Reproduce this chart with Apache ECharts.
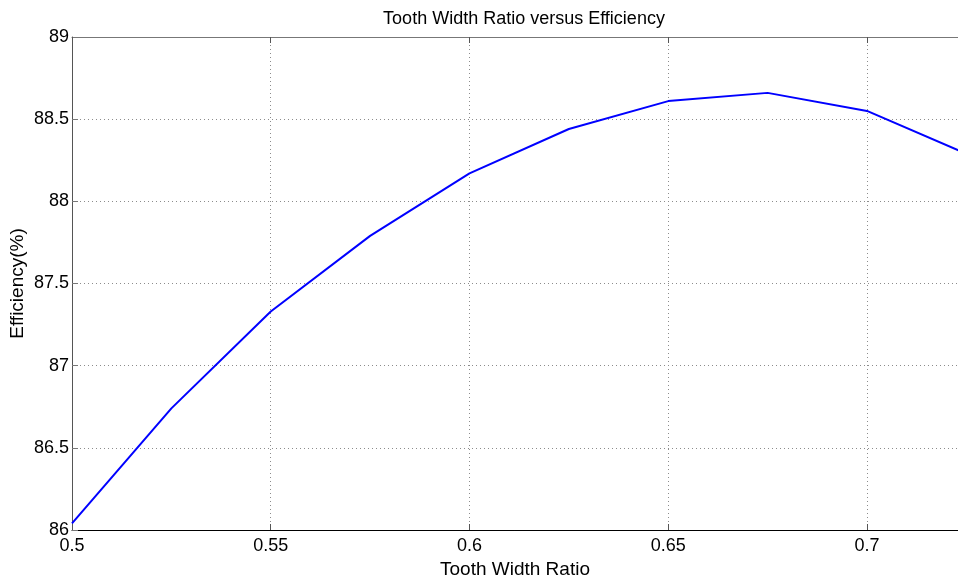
<!DOCTYPE html>
<html><head><meta charset="utf-8">
<script src="https://cdn.jsdelivr.net/npm/echarts@6/dist/echarts.min.js"></script>
<style>html,body{margin:0;padding:0;background:#fff}#c{width:958px;height:579px}</style>
</head><body><div id="c"></div>
<script>
var ratios = [0.5, 0.525, 0.55, 0.575, 0.6, 0.625, 0.65, 0.675, 0.7, 0.725];
var efficiency = [86.04, 86.74, 87.33, 87.79, 88.17, 88.44, 88.61, 88.66, 88.55, 88.29];
var xTicks = [0.5, 0.55, 0.6, 0.65, 0.7];
var yTicks = [86, 86.5, 87, 87.5, 88, 88.5, 89];

var chart = echarts.init(document.getElementById('c'), null, {renderer: 'canvas'});
var font = 'Liberation Sans, Arial, sans-serif';
chart.setOption({
  animation: false,
  title: {text: 'Tooth Width Ratio versus Efficiency', left: 519, top: 5, textAlign: 'center',
    textStyle: {fontFamily: font, fontSize: 18, fontWeight: 'normal', color: '#000'}},
  grid: {left: 72, right: 0, top: 37, bottom: 49, containLabel: false, outerBoundsMode: 'none'},
  xAxis: [{
    type: 'value', min: 0.5, max: 0.7229, interval: 0.05,
    name: 'Tooth Width Ratio', nameLocation: 'middle', nameGap: 28,
    nameTextStyle: {fontFamily: font, fontSize: 19, color: '#000'},
    axisLine: {lineStyle: {color: '#000', width: 1}},
    axisTick: {inside: true, length: 6, lineStyle: {color: '#555'}},
    axisLabel: {fontFamily: font, fontSize: 18, color: '#000', margin: 7,
      showMaxLabel: false,
      formatter: function(v){ var s = String(+v.toFixed(3)); return xTicks.indexOf(+v.toFixed(3)) >= 0 ? s : ''; }},
    splitLine: {show: true, lineStyle: {color: '#8c8c8c', type: [1, 3], width: 1}}
  }, {
    type: 'value', position: 'top', min: 0.5, max: 0.7229, interval: 0.05,
    axisLine: {show: true, lineStyle: {color: '#777', width: 1}},
    axisTick: {inside: true, length: 6, lineStyle: {color: '#555'}},
    axisLabel: {show: false}, splitLine: {show: false}
  }],
  yAxis: {
    type: 'value', min: 86, max: 89, interval: 0.5,
    name: 'Efficiency(%)', nameLocation: 'middle', nameGap: 45, nameMoveOverlap: false,
    nameTextStyle: {fontFamily: font, fontSize: 19, color: '#000'},
    axisLine: {show: true, lineStyle: {color: '#555', width: 1}},
    axisTick: {inside: true, length: 6, lineStyle: {color: '#777'}},
    axisLabel: {fontFamily: font, fontSize: 18, color: '#000', margin: 3,
      formatter: function(v){ return String(+v.toFixed(2)); }},
    splitLine: {show: true, lineStyle: {color: '#8c8c8c', type: [1, 3], width: 1}}
  },
  series: [{
    type: 'line', xAxisIndex: 0,
    data: ratios.map(function(r, i){ return [r, efficiency[i]]; }),
    showSymbol: false, symbol: 'none',
    lineStyle: {color: '#0000ff', width: 2}
  }]
});
</script></body></html>
